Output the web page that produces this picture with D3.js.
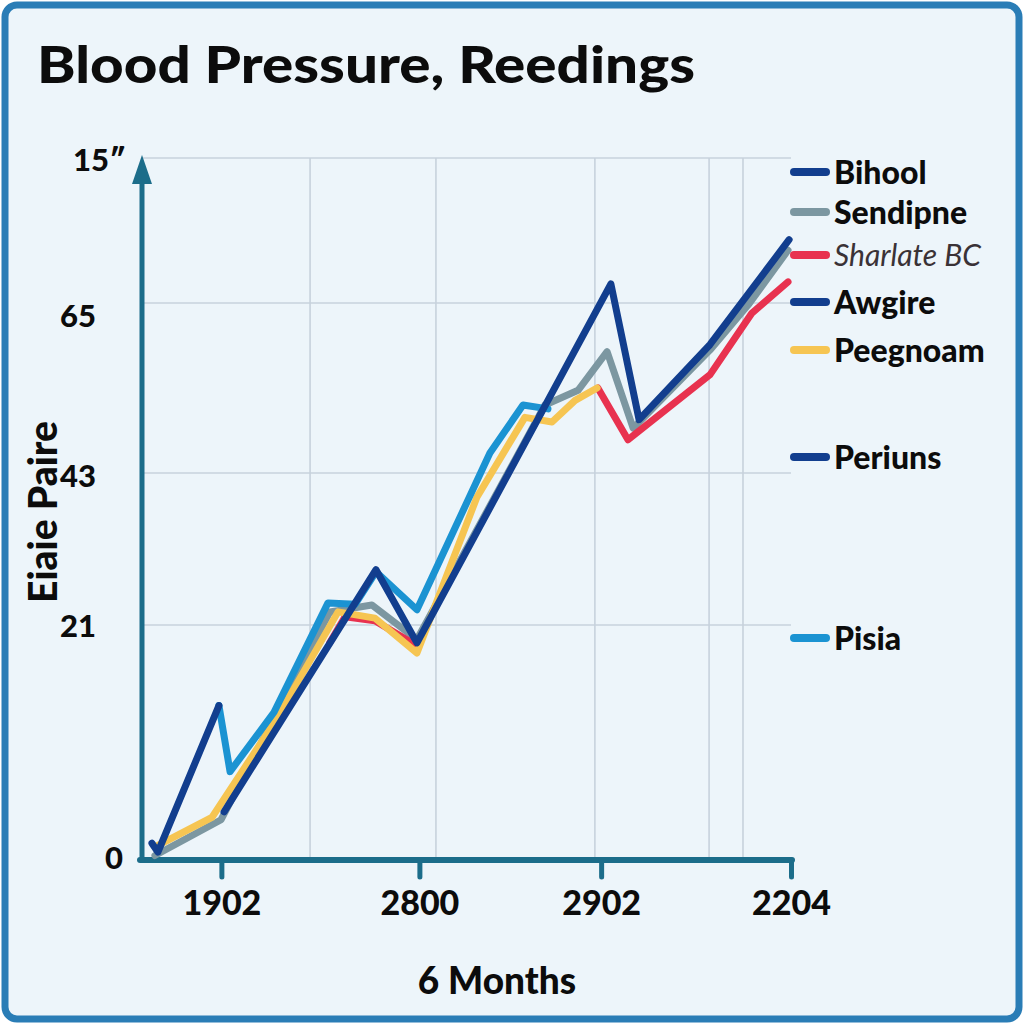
<!DOCTYPE html>
<html>
<head>
<meta charset="utf-8">
<script src="https://cdn.jsdelivr.net/npm/d3@7"></script>
<style>
  html, body { margin: 0; padding: 0; background: #ffffff; }
  svg { display: block; }
  text { font-family: Lato, "Open Sans", "DejaVu Sans", sans-serif; }
</style>
</head>
<body>
<svg id="chart" width="1024" height="1024"></svg>
<script>
// ---------------- data ----------------
const title = "Blood Pressure, Reedings";
const xTitle = "6 Months";
const yTitle = "Eiaie Paire";

const seriesNames  = ["Bihool", "Sendipne", "Sharlate BC", "Awgire", "Peegnoam", "Periuns", "Pisia"];
const seriesColors = ["#123e8e", "#7c97a1", "#e8324f", "#123e8e", "#f6c552", "#123e8e", "#1b93d2"];

// x tick values (month index) and their labels
const xTickValues = [3, 10.3, 17, 24];
const xTickLabels = ["1902", "2800", "2902", "2204"];
// vertical gridlines (month index)
const xGridValues = [6.27, 10.91, 16.77, 20.98, 22.23];

// y tick values and labels
const yTickValues = [0, 21, 43, 65, 87];
const yTickLabels = ["0", "21", "43", "65", "15\u2033"];

// series: [month, value]; null = gap
const bihool = [[3.10, 4.3], [8.70, 29.0], [10.21, 19.4], [17.36, 67.9], [18.40, 49.9], [21.01, 59.6], [23.93, 74.6]];
const sendipne = [[0.55, 0.4], [2.99, 3.6], [5.01, 13.0], [7.00, 22.9], [8.55, 23.9], [10.21, 19.7], [14.93, 51.8],
                  [16.15, 53.7], [17.22, 58.7], [18.18, 48.8], [21.01, 58.9], [22.41, 64.7], [23.89, 73.0]];
const sharlate = [[6.99, 19.4], [7.56, 22.2], [8.66, 21.6], [10.18, 19.2], null,
                  [16.88, 54.0], [17.99, 47.3], [21.01, 55.7], [22.56, 63.7], [23.89, 68.2]];
const awgire = [[0.44, 1.5], [0.66, 0.7], [2.91, 13.8]];
const peegnoam = [[0.66, 1.3], [2.65, 3.8], [5.01, 12.5], [7.30, 22.9], [8.66, 22.0], [10.21, 18.5],
                  [12.42, 39.5], [14.19, 50.2], [15.19, 49.6], [16.04, 52.4], [16.85, 54.0]];
const periuns = [];
const pisia = [[2.91, 13.8], [3.32, 7.9], [4.94, 13.2], [6.93, 24.2], [7.93, 24.0], [8.70, 28.7],
               [10.21, 23.2], [12.90, 45.6], [14.12, 51.8], [15.04, 51.3]];

const seriesData = [bihool, sendipne, sharlate, awgire, peegnoam, periuns, pisia];
// drawing order (bottom to top)
const drawOrder = [1, 2, 4, 6, 3, 5, 0];

// ---------------- layout ----------------
const svg = d3.select("#chart");
const W = 1024, H = 1024;
const plotLeft = 142, plotRight = 791, plotTop = 158, plotBottom = 860;
const legendRowsY = [172, 212, 255, 302, 350, 457, 638];
const yLabelRight = [123, 96, 96, 96, 126];
const yLabelShift = [-2, 1, 3, 13, 2];

const x = d3.scaleLinear().domain([0, 24]).range([140, 791]);
const y = d3.scaleLinear().domain(yTickValues).range([860, 625, 473, 303, 158]);

// background + frame
svg.append("rect").attr("width", W).attr("height", H).attr("fill", "#ffffff");
svg.append("rect")
  .attr("x", 5).attr("y", 5).attr("width", W - 10).attr("height", H - 10)
  .attr("rx", 12).attr("ry", 12)
  .attr("fill", "#edf5fa").attr("stroke", "#2a7db6").attr("stroke-width", 7);

// title
svg.append("text")
  .attr("x", 37).attr("y", 83)
  .attr("font-size", 51).attr("font-weight", 900).attr("fill", "#0c0c0c")
  .attr("textLength", 658).attr("lengthAdjust", "spacingAndGlyphs")
  .text(title);

// gridlines
const grid = svg.append("g");
grid.selectAll("line.h").data(yTickValues.slice(1)).join("line")
  .attr("x1", plotLeft).attr("x2", plotRight)
  .attr("y1", d => y(d)).attr("y2", d => y(d))
  .attr("stroke", "#c7d2dc").attr("stroke-width", 1.6);
grid.selectAll("line.v").data(xGridValues).join("line")
  .attr("x1", d => x(d)).attr("x2", d => x(d))
  .attr("y1", plotTop).attr("y2", plotBottom)
  .attr("stroke", "#c7d2dc").attr("stroke-width", 1.6);

// axes
const axisColor = "#1c6d8a";
const xAxis = d3.axisBottom(x).tickValues(xTickValues).tickFormat((d, i) => xTickLabels[i]).tickSize(17).tickPadding(14);
const gx = svg.append("g").attr("transform", `translate(0,${plotBottom})`).call(xAxis);
gx.select(".domain").remove();
gx.selectAll(".tick line").attr("stroke", axisColor).attr("stroke-width", 5).attr("stroke-linecap", "round");
gx.selectAll(".tick text").attr("font-size", 34).attr("font-weight", 900).attr("fill", "#0c0c0c")
  .attr("font-family", "Lato, sans-serif");

svg.append("line").attr("x1", plotLeft - 2).attr("x2", plotRight + 1)
  .attr("y1", plotBottom).attr("y2", plotBottom)
  .attr("stroke", axisColor).attr("stroke-width", 6).attr("stroke-linecap", "round");
svg.append("line").attr("x1", plotLeft).attr("x2", plotLeft)
  .attr("y1", plotBottom + 2).attr("y2", plotTop + 20)
  .attr("stroke", axisColor).attr("stroke-width", 5);
svg.append("path")
  .attr("d", `M${plotLeft},${plotTop - 3} L${plotLeft + 10},${plotTop + 26} L${plotLeft - 10},${plotTop + 26} Z`)
  .attr("fill", axisColor);

// y tick labels
svg.append("g").selectAll("text").data(yTickValues).join("text")
  .attr("x", (d, i) => yLabelRight[i])
  .attr("y", (d, i) => y(d) + yLabelShift[i])
  .attr("dy", "0.36em")
  .attr("text-anchor", "end")
  .attr("font-size", 31).attr("font-weight", 900).attr("fill", "#0c0c0c")
  .text((d, i) => yTickLabels[i]);

// axis titles
svg.append("text")
  .attr("transform", "translate(57,512) rotate(-90)")
  .attr("text-anchor", "middle")
  .attr("font-size", 39).attr("font-weight", 900).attr("fill", "#0c0c0c")
  .text(yTitle);
svg.append("text")
  .attr("x", 497).attr("y", 994)
  .attr("text-anchor", "middle")
  .attr("font-size", 37).attr("font-weight", 900).attr("fill", "#0c0c0c")
  .text(xTitle);

// lines
const line = d3.line()
  .defined(d => d !== null)
  .x(d => x(d[0])).y(d => y(d[1]));
const linesG = svg.append("g");
drawOrder.forEach(i => {
  if (seriesData[i].length === 0) return;
  linesG.append("path")
    .datum(seriesData[i])
    .attr("d", line)
    .attr("fill", "none")
    .attr("stroke", seriesColors[i])
    .attr("stroke-width", 7)
    .attr("stroke-linejoin", "round")
    .attr("stroke-linecap", "round");
});

// legend
const lg = svg.append("g");
seriesNames.forEach((name, i) => {
  const ly = legendRowsY[i];
  lg.append("line")
    .attr("x1", 794).attr("x2", 826).attr("y1", ly).attr("y2", ly)
    .attr("stroke", seriesColors[i]).attr("stroke-width", 8).attr("stroke-linecap", "round");
  const t = lg.append("text")
    .attr("x", 834).attr("y", ly).attr("dy", "0.36em")
    .attr("font-size", 32)
    .attr("fill", "#0c0c0c")
    .attr("font-weight", 900)
    .text(name);
  if (name === "Sharlate BC") {
    t.attr("font-style", "italic").attr("font-weight", 400).attr("font-size", 30).attr("fill", "#3a3236");
  }
});
</script>
</body>
</html>
